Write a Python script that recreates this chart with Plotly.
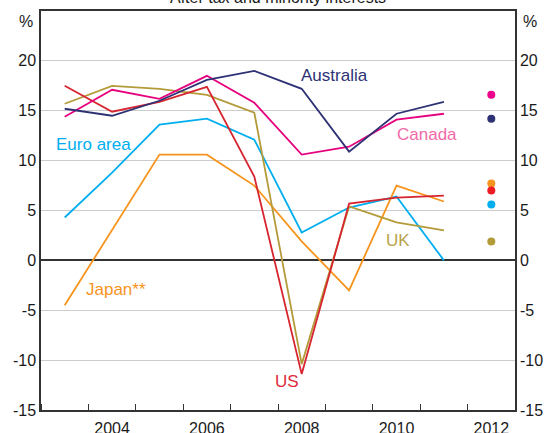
import plotly.graph_objects as go

years = [2003, 2004, 2005, 2006, 2007, 2008, 2009, 2010, 2011]
forecast_year = [2012]

australia = [15.2, 14.5, 16.0, 18.1, 19.0, 17.2, 10.9, 14.7, 15.9]
canada = [14.4, 17.1, 16.2, 18.5, 15.8, 10.6, 11.4, 14.1, 14.7]
us = [17.5, 14.9, 15.9, 17.4, 8.4, -11.4, 5.7, 6.3, 6.5]
uk = [15.7, 17.5, 17.2, 16.6, 14.8, -10.4, 5.4, 3.8, 3.0]
euro_area = [4.3, 8.8, 13.6, 14.2, 12.1, 2.8, 5.3, 6.4, 0.0]
japan = [-4.5, 3.0, 10.6, 10.6, 7.5, 1.9, -3.0, 7.5, 5.9]

forecast = {
    "Canada": 16.6,
    "Australia": 14.2,
    "Japan**": 7.7,
    "US": 7.0,
    "Euro area": 5.6,
    "UK": 1.9,
}

y_ticks = [-15, -10, -5, 0, 5, 10, 15, 20]
y_tick_text = ["-15", "-10", "-5", "0", "5", "10", "15", "20"]
x_ticks = [2004, 2006, 2008, 2010, 2012]
x_tick_text = ["2004", "2006", "2008", "2010", "2012"]

series = [
    ("Euro area", euro_area, "#00aeef", "#00aeef", "#00aeef"),
    ("Japan**", japan, "#f7941d", "#f7941d", "#f7941d"),
    ("UK", uk, "#b39b3a", "#b8a347", "#b39b3a"),
    ("US", us, "#d7252f", "#e0283a", "#ed1c24"),
    ("Canada", canada, "#e6007e", "#f06aa8", "#ec008c"),
    ("Australia", australia, "#2e3174", "#2e3174", "#2e3174"),
]

FONT = "Liberation Sans, Arial, sans-serif"
fig = go.Figure()
for name, vals, lc, tc, dc in series:
    fig.add_trace(go.Scatter(x=years, y=vals, mode="lines", name=name,
                             line=dict(color=lc, width=1.8), showlegend=False))
for name, vals, lc, tc, dc in series:
    fig.add_trace(go.Scatter(x=forecast_year, y=[forecast[name]], mode="markers",
                             marker=dict(color=dc, size=8), showlegend=False))
# invisible trace for right axis
fig.add_trace(go.Scatter(x=[2003], y=[0], yaxis="y2", mode="markers",
                         marker=dict(opacity=0), showlegend=False, hoverinfo="skip"))

label_pos = {
    "Australia": (2008.70, 18.5),
    "Canada": (2010.64, 12.6),
    "Euro area": (2003.60, 11.6),
    "Japan**": (2004.08, -2.9),
    "US": (2007.68, -12.1),
    "UK": (2010.03, 2.0),
}
annotations = []
for name, vals, lc, tc, dc in series:
    x, y = label_pos[name]
    annotations.append(dict(x=x, y=y, xref="x", yref="y", text=name, showarrow=False,
                            font=dict(family=FONT, size=17, color=tc)))
annotations.append(dict(x=0.5, y=1, xref="paper", yref="paper", text="After tax and minority interests",
                        showarrow=False, yanchor="bottom", yshift=3,
                        font=dict(family=FONT, size=16, color="#1a1a1a")))
annotations.append(dict(x=0, y=0.973, xref="paper", yref="paper", text="%", showarrow=False,
                        xanchor="right", yanchor="middle", xshift=-6,
                        font=dict(family=FONT, size=16, color="#1a1a1a")))
annotations.append(dict(x=1, y=0.973, xref="paper", yref="paper", text="%", showarrow=False,
                        xanchor="left", yanchor="middle", xshift=6,
                        font=dict(family=FONT, size=16, color="#1a1a1a")))

axis_font = dict(family=FONT, size=16, color="#1a1a1a")
fig.update_layout(
    width=547, height=433,
    margin=dict(l=41, r=32, t=11, b=23, autoexpand=False),
    paper_bgcolor="white", plot_bgcolor="white",
    annotations=annotations,
    xaxis=dict(range=[2002.5, 2012.5], tickvals=x_ticks, ticktext=x_tick_text, ticks="",
               showgrid=False, automargin=False, ticklabelstandoff=3,
               showline=True, linecolor="#333333", linewidth=1.5, mirror=True,
               tickfont=axis_font, zeroline=False,
               minor=dict(tick0=2002.5, dtick=1, ticks="inside", ticklen=6,
                          tickcolor="#333333", tickwidth=1, showgrid=False)),
    yaxis=dict(range=[-15, 25], tickvals=y_ticks, ticktext=y_tick_text, ticks="",
               automargin=False, showgrid=True,
               gridcolor="#cccccc", gridwidth=1, zeroline=True, zerolinecolor="#333333",
               zerolinewidth=1.5, showline=True, linecolor="#333333", linewidth=1.5,
               tickfont=axis_font),
    yaxis2=dict(range=[-15, 25], tickvals=y_ticks, ticktext=y_tick_text, ticks="",
                overlaying="y", side="right", automargin=False,
                showgrid=False, zeroline=False, showline=True, linecolor="#333333",
                linewidth=1.5, tickfont=axis_font),
)
fig.write_html("out.html", config={"displayModeBar": False},
               post_script="document.body.style.margin='0';document.body.style.overflow='hidden';")
